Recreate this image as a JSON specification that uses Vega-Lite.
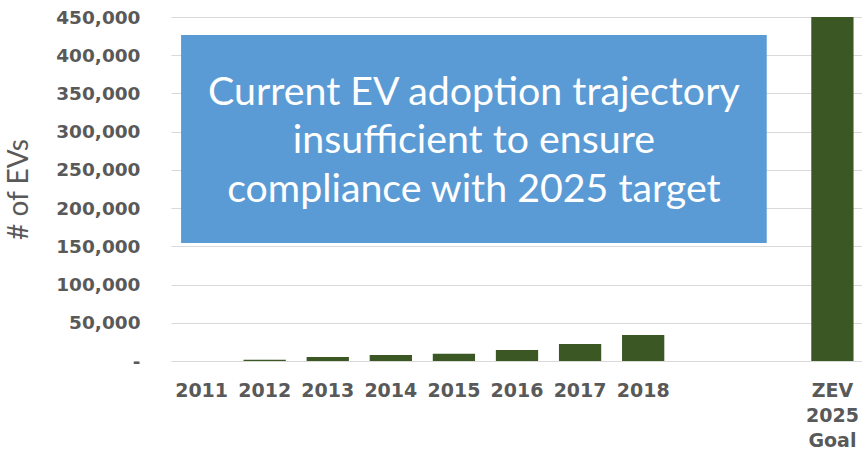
{
  "$schema": "https://vega.github.io/schema/vega-lite/v6.json",
  "autosize": {"type": "none"},
  "width": 692,
  "height": 344,
  "padding": {"left": 171, "top": 17, "right": 0, "bottom": 88},
  "background": "white",
  "config": {"view": {"stroke": null}},
  "layer": [
    {
      "data": {"values": [
        {"year": "2011", "evs": 100},
        {"year": "2012", "evs": 1700},
        {"year": "2013", "evs": 5200},
        {"year": "2014", "evs": 7800},
        {"year": "2015", "evs": 9600},
        {"year": "2016", "evs": 14400},
        {"year": "2017", "evs": 22200},
        {"year": "2018", "evs": 34000},
        {"year": "ZEV 2025 Goal", "evs": 450000}
      ]},
      "mark": {"type": "bar", "color": "#3A5724"},
      "encoding": {
        "x": {
          "field": "year", "type": "nominal", "sort": null,
          "scale": {"domain": ["2011","2012","2013","2014","2015","2016","2017","2018","gap1","gap2","ZEV 2025 Goal"], "paddingInner": 0.33, "paddingOuter": 0.15},
          "axis": {"title": null, "labelFont": "DejaVu Sans", "labelFontWeight": "bold", "labelFontSize": 19, "labelColor": "#595959", "labelPadding": 20, "ticks": false, "domain": false, "labelAngle": 0, "labelLineHeight": 25, "labelBaseline": "top",
                   "labelExpr": "datum.value == 'ZEV 2025 Goal' ? ['ZEV','2025','Goal'] : (indexof(datum.value, 'gap') == 0 ? '' : datum.value)"}
        },
        "y": {
          "field": "evs", "type": "quantitative",
          "scale": {"domain": [0, 450000], "nice": false},
          "axis": {"title": "# of EVs", "titleFont": "Lato", "titleFontSize": 28, "titleFontWeight": "normal", "titleColor": "#595959", "titlePadding": 22,
                   "labelFont": "DejaVu Sans", "labelFontWeight": "bold", "labelFontSize": 18.5, "labelColor": "#595959", "labelPadding": 31, "labelOverlap": false,
                   "ticks": false, "domain": false, "grid": true, "gridColor": "#d9d9d9", "gridWidth": 1,
                   "values": [0, 50000, 100000, 150000, 200000, 250000, 300000, 350000, 400000, 450000],
                   "labelExpr": "datum.value == 0 ? '-\u00a0\u00a0' : format(datum.value, ',')"}
        }
      }
    },
    {
      "data": {"values": [{"x0": 0.16, "x1": 9.47, "y0": 154400, "y1": 426500}]},
      "mark": {"type": "rect", "color": "#5B9BD5"},
      "encoding": {
        "x": {"field": "x0", "type": "quantitative", "scale": {"domain": [0, 11]}, "axis": null},
        "x2": {"field": "x1"},
        "y": {"field": "y0", "type": "quantitative", "scale": {"domain": [0, 450000], "nice": false}, "axis": null},
        "y2": {"field": "y1"}
      }
    },
    {
      "data": {"values": [{"xc": 4.815, "yc": 350600, "label": "Current EV adoption trajectory\ninsufficient to ensure\ncompliance with 2025 target"}]},
      "mark": {"type": "text", "color": "white", "font": "Lato", "fontSize": 39.3, "lineBreak": "\n", "lineHeight": 48.5, "align": "center", "baseline": "middle"},
      "encoding": {
        "x": {"field": "xc", "type": "quantitative", "scale": {"domain": [0, 11]}, "axis": null},
        "y": {"field": "yc", "type": "quantitative", "scale": {"domain": [0, 450000], "nice": false}, "axis": null},
        "text": {"field": "label"}
      }
    }
  ],
  "resolve": {"scale": {"x": "independent", "y": "independent"}}
}
